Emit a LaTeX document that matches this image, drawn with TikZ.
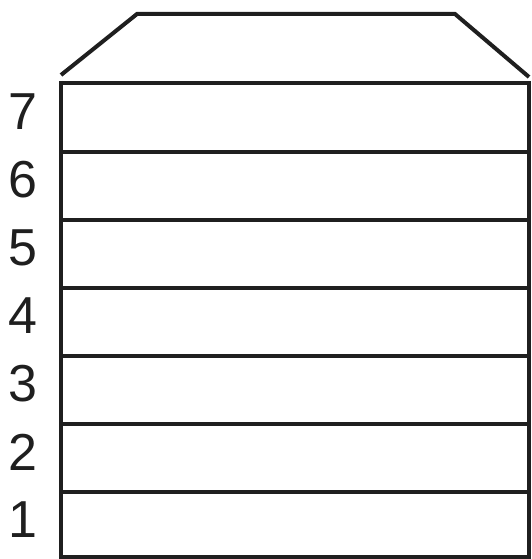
\documentclass[tikz,border=0pt]{standalone}
\usepackage{fontspec}
\setmainfont{Liberation Sans}
\begin{document}
\begin{tikzpicture}[x=1pt,y=-1pt,
  wall/.style={line width=4pt,draw=black!88},
  floorlabel/.style={font=\fontsize{52}{52}\selectfont,text=black!88,inner sep=0pt,anchor=center}]
\useasboundingbox (0,0) rectangle (531,559);
% roof
\coordinate (rl) at (61,75);
\coordinate (rtl) at (137,14);
\coordinate (rtr) at (455,14);
\coordinate (rr) at (529,77);
\draw[wall,line join=miter] (rl) -- (rtl) -- (rtr) -- (rr);
% walls
\coordinate (tl) at (61,83);
\coordinate (tr) at (531,83);
\coordinate (bl) at (61,559);
\coordinate (br) at (529,559);
\draw[wall] (61,81) -- (bl);
\draw[wall] (529,81) -- (br);
% floor lines
\foreach \y in {83,152,220,288,356,424,492,557}{
  \draw[wall] (59,\y) -- (531,\y);
}
% labels
\foreach \n/\y in {7/112,6/180,5/248,4/316,3/384,2/452,1/520}{
  \node[floorlabel] (l\n) at (23,\y) {\n};
}
\end{tikzpicture}
\end{document}
